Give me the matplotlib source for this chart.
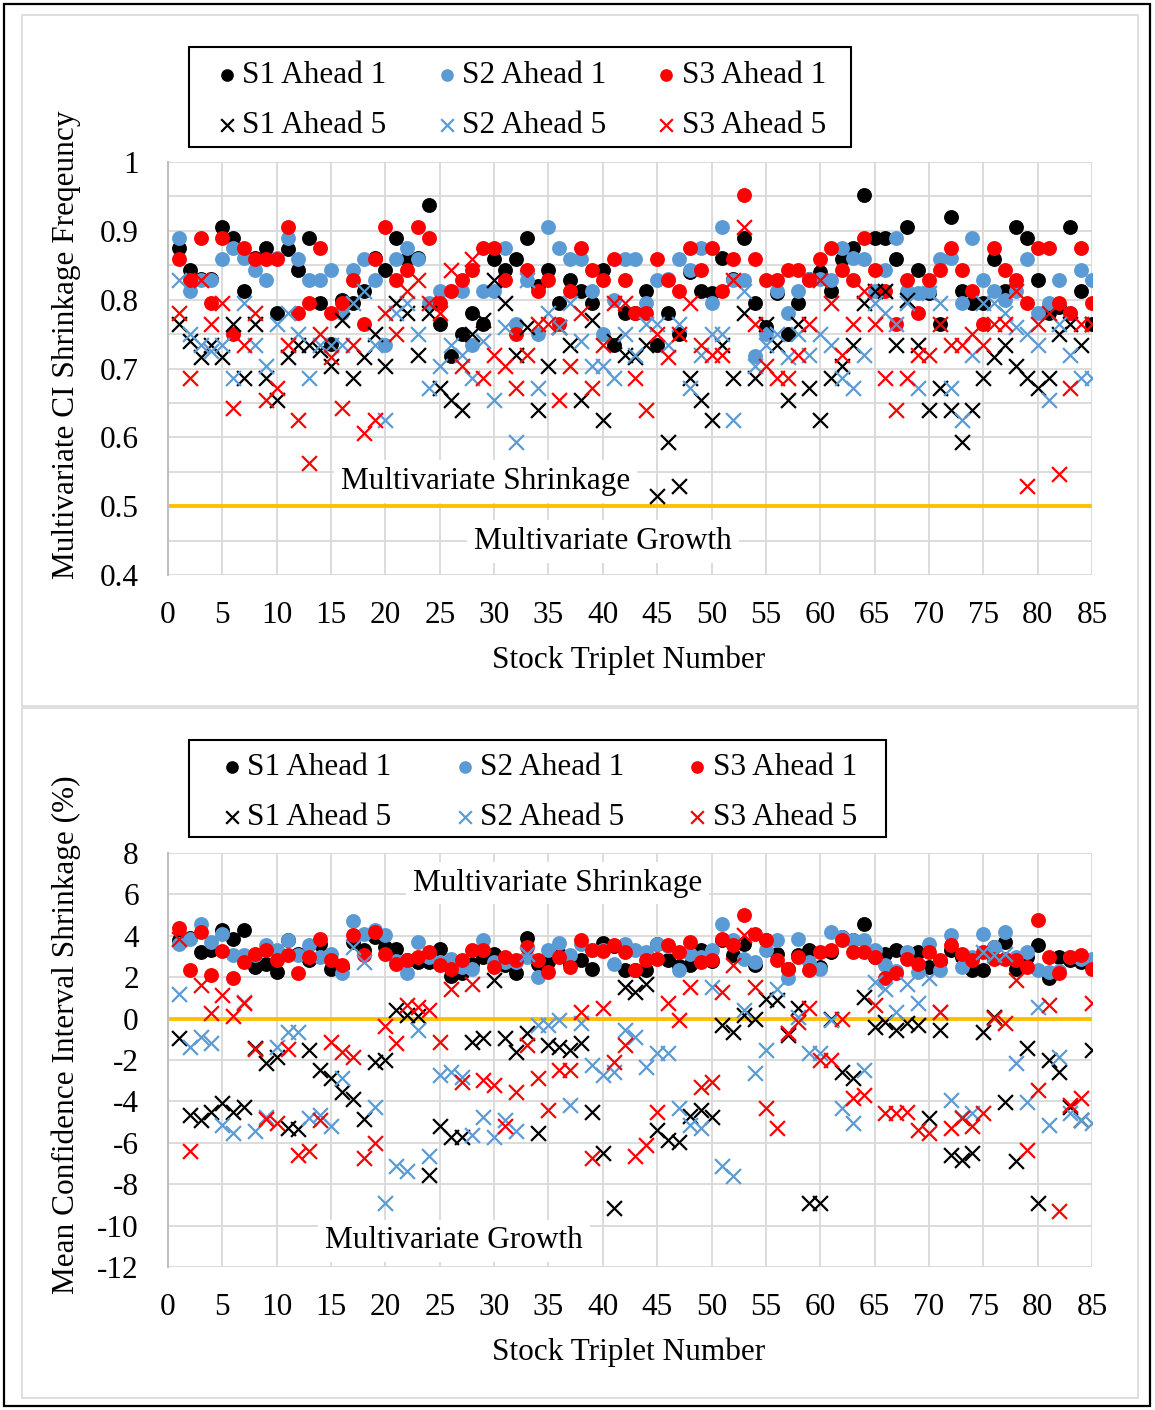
import numpy as np
import matplotlib.pyplot as plt
from matplotlib.patches import Rectangle

plt.rcParams['font.family'] = ['Liberation Serif', 'DejaVu Serif']
plt.rcParams['axes.unicode_minus'] = False

# -----------------------------
# Data
# -----------------------------
triplet = np.arange(1, 86)

# top panel: multivariate CI shrinkage frequency
freq_s1_a1 = [0.875, 0.843, 0.83, 0.83, 0.905, 0.89, 0.813, 0.86, 0.875, 0.78, 0.873, 0.843, 0.89, 0.795, 0.735, 0.8, 0.795, 0.812, 0.86, 0.843, 0.89,
              0.859, 0.86, 0.937, 0.765, 0.718, 0.75, 0.78, 0.765, 0.859, 0.843, 0.859, 0.89, 0.82, 0.843, 0.795, 0.828, 0.812, 0.795, 0.843, 0.734, 0.78,
              0.78, 0.812, 0.734, 0.78, 0.75, 0.84, 0.812, 0.81, 0.86, 0.83, 0.89, 0.795, 0.76, 0.81, 0.75, 0.795, 0.83, 0.84, 0.812, 0.859, 0.875,
              0.952, 0.89, 0.89, 0.859, 0.905, 0.843, 0.81, 0.765, 0.92, 0.812, 0.795, 0.795, 0.859, 0.812, 0.905, 0.89, 0.828, 0.78, 0.79, 0.905, 0.812, 0.765]
freq_s2_a1 = [0.89, 0.812, 0.828, 0.828, 0.859, 0.875, 0.86, 0.843, 0.828, 0.86, 0.89, 0.859, 0.828, 0.828, 0.843, 0.78, 0.843, 0.859, 0.828, 0.734, 0.859,
              0.875, 0.859, 0.795, 0.812, 0.812, 0.812, 0.734, 0.812, 0.812, 0.875, 0.765, 0.828, 0.75, 0.905, 0.875, 0.859, 0.859, 0.812, 0.75, 0.8, 0.859,
              0.859, 0.795, 0.828, 0.83, 0.859, 0.843, 0.875, 0.795, 0.905, 0.828, 0.828, 0.718, 0.75, 0.812, 0.78, 0.812, 0.83, 0.83, 0.828, 0.875, 0.86,
              0.859, 0.812, 0.843, 0.89, 0.812, 0.81, 0.812, 0.859, 0.86, 0.795, 0.89, 0.828, 0.812, 0.80, 0.812, 0.859, 0.78, 0.795, 0.828, 0.78, 0.843, 0.828]
freq_s3_a1 = [0.859, 0.828, 0.89, 0.795, 0.89, 0.75, 0.875, 0.859, 0.859, 0.859, 0.905, 0.78, 0.795, 0.875, 0.78, 0.795, 0.828, 0.765, 0.859, 0.905, 0.828,
              0.843, 0.905, 0.89, 0.795, 0.812, 0.828, 0.843, 0.875, 0.875, 0.828, 0.75, 0.843, 0.812, 0.828, 0.765, 0.812, 0.875, 0.843, 0.828, 0.859, 0.828,
              0.78, 0.78, 0.859, 0.828, 0.812, 0.875, 0.843, 0.875, 0.812, 0.859, 0.952, 0.859, 0.828, 0.828, 0.843, 0.843, 0.828, 0.859, 0.875, 0.843, 0.828,
              0.89, 0.843, 0.812, 0.765, 0.828, 0.78, 0.828, 0.843, 0.875, 0.843, 0.812, 0.765, 0.875, 0.843, 0.828, 0.795, 0.875, 0.875, 0.795, 0.78, 0.875, 0.795]
freq_s1_a5 = [0.765, 0.74, 0.717, 0.734, 0.717, 0.765, 0.686, 0.765, 0.686, 0.654, 0.717, 0.734, 0.734, 0.727, 0.703, 0.77, 0.686, 0.717, 0.75, 0.703, 0.795,
              0.78, 0.72, 0.78, 0.671, 0.654, 0.64, 0.75, 0.77, 0.828, 0.795, 0.72, 0.76, 0.64, 0.703, 0.76, 0.734, 0.654, 0.77, 0.625, 0.74, 0.72,
              0.717, 0.734, 0.515, 0.593, 0.53, 0.686, 0.654, 0.625, 0.734, 0.686, 0.78, 0.686, 0.765, 0.734, 0.654, 0.765, 0.671, 0.625, 0.686, 0.703, 0.734,
              0.795, 0.812, 0.812, 0.734, 0.8, 0.734, 0.64, 0.671, 0.64, 0.593, 0.64, 0.686, 0.717, 0.734, 0.703, 0.686, 0.671, 0.686, 0.75, 0.765, 0.734, 0.765]
freq_s2_a5 = [0.828, 0.75, 0.734, 0.725, 0.734, 0.686, 0.795, 0.734, 0.703, 0.765, 0.78, 0.75, 0.686, 0.734, 0.734, 0.734, 0.795, 0.812, 0.734, 0.625, 0.78,
              0.795, 0.75, 0.671, 0.703, 0.734, 0.72, 0.686, 0.74, 0.654, 0.76, 0.593, 0.828, 0.671, 0.78, 0.76, 0.795, 0.74, 0.703, 0.703, 0.686, 0.75,
              0.72, 0.765, 0.765, 0.734, 0.765, 0.671, 0.72, 0.75, 0.75, 0.625, 0.812, 0.703, 0.734, 0.75, 0.717, 0.75, 0.72, 0.75, 0.734, 0.686, 0.671,
              0.72, 0.795, 0.78, 0.765, 0.795, 0.671, 0.81, 0.795, 0.671, 0.625, 0.72, 0.795, 0.795, 0.78, 0.76, 0.75, 0.734, 0.654, 0.765, 0.72, 0.686, 0.686]
freq_s3_a5 = [0.78, 0.686, 0.828, 0.765, 0.795, 0.642, 0.734, 0.78, 0.654, 0.671, 0.734, 0.625, 0.563, 0.75, 0.717, 0.642, 0.734, 0.607, 0.625, 0.78, 0.75,
              0.812, 0.828, 0.795, 0.78, 0.843, 0.703, 0.859, 0.686, 0.72, 0.703, 0.671, 0.72, 0.765, 0.765, 0.654, 0.703, 0.78, 0.671, 0.734, 0.795, 0.795,
              0.686, 0.64, 0.75, 0.717, 0.75, 0.795, 0.734, 0.72, 0.72, 0.828, 0.905, 0.765, 0.703, 0.686, 0.686, 0.72, 0.765, 0.828, 0.795, 0.72, 0.765,
              0.812, 0.765, 0.686, 0.64, 0.686, 0.72, 0.72, 0.765, 0.734, 0.734, 0.75, 0.734, 0.765, 0.765, 0.812, 0.53, 0.765, 0.78, 0.547, 0.671, 0.765, 0.765]

# bottom panel: mean confidence interval shrinkage (%)
mean_s1_a1 = [3.78, 3.9, 3.22, 3.3, 4.27, 3.86, 4.3, 2.5, 2.66, 2.26, 3.78, 3.14, 2.82, 3.62, 2.42, 2.5, 3.7, 3.3, 3.94, 3.46, 3.38,
              2.82, 2.74, 2.74, 3.38, 2.05, 2.18, 2.66, 3.0, 3.14, 2.58, 2.18, 3.9, 2.66, 2.74, 3.14, 2.66, 2.82, 2.42, 3.65, 3.5, 2.34,
              2.34, 2.34, 3.62, 2.82, 2.53, 2.58, 3.3, 2.8, 3.78, 3.06, 3.62, 2.58, 3.78, 3.14, 2.4, 3.06, 3.3, 2.5, 3.2, 3.94, 3.78,
              4.59, 3.0, 3.14, 3.3, 3.1, 3.22, 2.5, 2.8, 3.3, 3.0, 2.34, 2.34, 3.46, 3.7, 2.42, 3.0, 3.54, 1.94, 2.98, 2.82, 2.74, 2.5]
mean_s2_a1 = [3.62, 3.86, 4.59, 3.7, 4.1, 3.06, 3.06, 3.06, 3.54, 3.3, 3.78, 3.06, 3.54, 2.98, 3.14, 2.18, 4.72, 4.1, 4.27, 4.02, 2.8,
              2.18, 3.7, 2.98, 2.74, 2.9, 2.5, 2.42, 3.81, 2.74, 2.74, 2.74, 3.0, 2.02, 3.3, 3.65, 3.06, 3.62, 3.33, 3.3, 2.63, 3.62,
              3.3, 3.22, 3.62, 3.5, 2.34, 3.14, 2.98, 3.3, 4.59, 3.78, 2.9, 2.74, 3.3, 3.78, 1.98, 3.86, 2.74, 2.42, 4.18, 3.94, 3.78,
              3.78, 3.3, 2.58, 2.3, 3.2, 2.26, 3.62, 2.34, 4.02, 2.5, 3.0, 4.1, 3.46, 4.18, 3.0, 3.22, 2.34, 2.26, 2.3, 3.0, 2.9, 2.9]
mean_s3_a1 = [4.39, 2.37, 4.18, 2.1, 3.27, 1.94, 2.74, 3.14, 3.33, 2.82, 3.06, 2.18, 2.98, 3.86, 2.82, 2.58, 4.02, 3.06, 4.18, 3.14, 2.66,
              2.82, 2.98, 3.22, 2.58, 2.42, 2.82, 3.3, 3.3, 2.5, 2.98, 2.82, 3.46, 2.82, 2.26, 2.98, 2.47, 3.78, 3.33, 3.27, 3.57, 3.22,
              2.34, 2.82, 2.9, 3.54, 3.22, 3.7, 2.74, 2.82, 3.86, 3.54, 4.99, 4.1, 3.78, 2.82, 2.42, 2.98, 2.37, 3.22, 3.3, 3.81, 3.22,
              3.22, 2.98, 1.94, 2.18, 2.9, 2.66, 3.22, 2.82, 3.54, 3.14, 2.82, 3.22, 2.9, 2.9, 2.82, 2.5, 4.75, 2.98, 2.18, 2.98, 3.06, 2.42]
mean_s1_a5 = [-0.96, -4.65, -4.9, -4.49, -4.06, -4.49, -4.25, -1.44, -2.13, -1.84, -5.29, -5.34, -1.52, -2.48, -2.88, -3.53, -3.9, -4.86, -2.08, -2.0, 0.41,
              0.17, 0.12, -7.56, -5.21, -5.7, -5.7, -1.12, -0.96, 1.86, -0.96, -1.6, -0.71, -5.53, -1.28, -1.36, -1.52, -1.2, -4.49, -6.5, -9.15, 1.53,
              1.29, 1.69, -5.37, -5.86, -5.94, -4.7, -4.41, -4.73, -0.31, -0.63, 0.17, 0.0, 0.97, 0.89, -0.8, 0.49, -8.9, -8.9, 0.0, -2.56, -2.88,
              1.05, -0.39, -0.15, -0.55, -0.23, -0.31, -4.81, -0.55, -6.58, -6.82, -6.5, -0.63, 0.1, -4.01, -6.9, -1.44, -8.9, -2.0, -2.56, -4.25, -4.9, -1.52]
mean_s2_a5 = [1.21, -1.36, -0.88, -1.2, -5.13, -5.53, 0.81, -5.45, -4.73, -1.36, -0.63, -0.63, -4.81, -4.65, -5.21, -2.88, 3.46, 2.74, -4.25, -8.9, -7.14,
              -7.38, -0.55, -6.66, -2.72, -2.56, -2.8, -5.61, -4.73, -5.7, -4.9, -5.45, 3.14, -0.31, -0.31, -0.07, -4.17, -0.23, -2.24, -2.72, -2.6, -0.55,
              -0.88, -2.32, -1.68, -1.68, -4.33, -5.13, -5.29, 1.53, -7.14, -7.62, 0.41, -2.64, -1.52, 1.45, -0.71, 0.09, -1.68, -1.68, -0.07, -4.33, -5.05,
              -2.48, 1.77, 1.45, 0.33, 1.69, 0.73, 1.94, 0.33, -3.93, -4.73, -4.57, 3.22, 3.06, 3.14, -2.16, -4.01, 0.57, -5.13, -1.84, -4.57, -4.9, -5.05]
mean_s3_a5 = [3.86, -6.42, 1.61, 0.28, 1.13, 0.12, 0.73, -1.49, -4.86, -5.05, -1.49, -6.58, -6.42, -4.9, -1.12, -1.6, -1.84, -6.74, -6.02, -0.36, -1.2,
              0.65, 0.57, 0.41, -1.12, 1.45, -3.04, 1.69, -2.96, -3.2, -5.21, -3.53, -1.28, -2.88, -4.41, -2.48, -2.48, 0.33, -6.74, 0.49, -2.08, -1.28,
              -6.66, -6.1, -4.49, 0.73, -0.07, 1.53, -3.29, -3.04, 1.29, 2.58, 4.02, 1.53, -4.33, -5.29, -0.71, -0.15, 0.49, -2.0, -2.0, 0.0, -3.85,
              -3.69, 0.65, -4.57, -4.57, -4.49, -5.37, -5.53, 0.33, -5.29, -4.81, -5.21, -4.57, 0.03, -0.23, 1.86, -6.34, -3.45, 0.65, -9.3, -4.17, -3.85, 0.73]

labels = ['S1 Ahead 1', 'S2 Ahead 1', 'S3 Ahead 1', 'S1 Ahead 5', 'S2 Ahead 5', 'S3 Ahead 5']

# -----------------------------
# Styles
# -----------------------------
BLACK, BLUE, RED = '#000000', '#5B9BD5', '#FF0000'
YELLOW = '#FFC000'
GRID = '#D9D9D9'
FS = 22.5
W, H = 1155, 1410
colors = [BLACK, BLUE, RED, BLACK, BLUE, RED]
markers = ['o', 'o', 'o', 'x', 'x', 'x']

fig = plt.figure(figsize=(W / 100, H / 100), dpi=100)


def frame(x0, y0, x1, y1, color, lw):
    # rectangle given in pixel coords (origin top-left)
    fig.patches.append(Rectangle((x0 / W, 1 - y1 / H), (x1 - x0) / W, (y1 - y0) / H,
                                 transform=fig.transFigure, fill=False, ec=color, lw=lw, zorder=5))


# outer black frame and the two light chart frames
frame(4, 4, 1150, 1406, 'black', 1.6)
frame(22, 15, 1138, 706, GRID, 1.2)
frame(22, 708, 1138, 1398, GRID, 1.2)

ax_top = fig.add_axes([168 / W, 1 - 575 / H, 924 / W, 413 / H])
ax_bot = fig.add_axes([168 / W, 1 - 1267 / H, 924 / W, 414 / H])


def draw_panel(ax, series, ylim, yticks, ygrid, ref, ylabel, label_y):
    handles = []
    for vals, c, m, lab in zip(series, colors, markers, labels):
        if m == 'o':
            h = ax.scatter(triplet, vals, s=115, c=c, marker='o', linewidths=0, zorder=3, label=lab)
        else:
            h = ax.scatter(triplet, vals, s=115, c=c, marker='x', linewidths=1.6, zorder=3, label=lab)
        handles.append(h)
    ax.axhline(ref, color=YELLOW, lw=2.8, zorder=2)
    ax.set_xlim(0, 85)
    ax.set_ylim(*ylim)
    ax.set_xticks(np.arange(0, 86, 5))
    ax.set_yticks(yticks)
    ax.set_yticks(ygrid, minor=True)
    ax.tick_params(axis='both', which='both', length=0, labelsize=FS)
    ax.tick_params(axis='x', pad=19)
    ax.tick_params(axis='y', pad=21)
    ax.grid(True, which='both', color=GRID, lw=1.3, zorder=0)
    ax.set_axisbelow(True)
    for s in ['top', 'right', 'bottom']:
        ax.spines[s].set_visible(False)
    ax.spines['left'].set_color('#BFBFBF')
    ax.spines['left'].set_linewidth(1.5)
    ax.set_xlabel('Stock Triplet Number', fontsize=FS)
    ax.xaxis.set_label_coords(0.499, -0.171)
    ax.set_ylabel(ylabel, fontsize=FS)
    ax.yaxis.set_label_coords(-0.094, label_y)
    return handles


h_top = draw_panel(ax_top, [freq_s1_a1, freq_s2_a1, freq_s3_a1, freq_s1_a5, freq_s2_a5, freq_s3_a5],
                   (0.4, 1.0), np.round(np.arange(0.4, 1.01, 0.1), 1), np.arange(0.4, 1.001, 0.05), 0.5,
                   'Multivariate CI Shrinkage Freqeuncy', 0.557)
ax_top.set_yticklabels(['0.4', '0.5', '0.6', '0.7', '0.8', '0.9', '1'])

h_bot = draw_panel(ax_bot, [mean_s1_a1, mean_s2_a1, mean_s3_a1, mean_s1_a5, mean_s2_a5, mean_s3_a5],
                   (-12, 8), np.arange(-12, 9, 2), np.arange(-12, 9, 2), 0,
                   'Mean Confidence Interval Shrinkage (%)', 0.56)

box = dict(facecolor='white', edgecolor='none', pad=5)
ax_top.text(29.2, 0.536, 'Multivariate Shrinkage', fontsize=FS, ha='center', va='center', bbox=box, zorder=4)
ax_top.text(40.0, 0.449, 'Multivariate Growth', fontsize=FS, ha='center', va='center', bbox=box, zorder=4)
ax_bot.text(35.8, 6.55, 'Multivariate Shrinkage', fontsize=FS, ha='center', va='center', bbox=box, zorder=4)
ax_bot.text(26.3, -10.74, 'Multivariate Growth', fontsize=FS, ha='center', va='center', bbox=box, zorder=4)

# legends: column-major order so rows read S1/S2/S3; frame drawn separately
order = [0, 3, 1, 4, 2, 5]
legend_specs = [
    # handles, first handle left x, first row top y, column spacing, legend frame
    (h_top, 218, 61, 1.63, (189, 47, 851, 147)),
    (h_bot, 223, 753, 2.05, (189, 740, 886, 837)),
]
for hs, lx, ty, colsp, fr in legend_specs:
    fig.legend([hs[i] for i in order], [labels[i] for i in order], ncol=3,
               loc='upper left', bbox_to_anchor=(lx / W, 1 - ty / H),
               fontsize=FS, frameon=False, borderpad=0, borderaxespad=0,
               handlelength=0.58, handletextpad=0.2, columnspacing=colsp,
               labelspacing=0.68, markerscale=0.85)
    frame(*fr, 'black', 1.5)

fig.savefig('out.png', dpi=100)
